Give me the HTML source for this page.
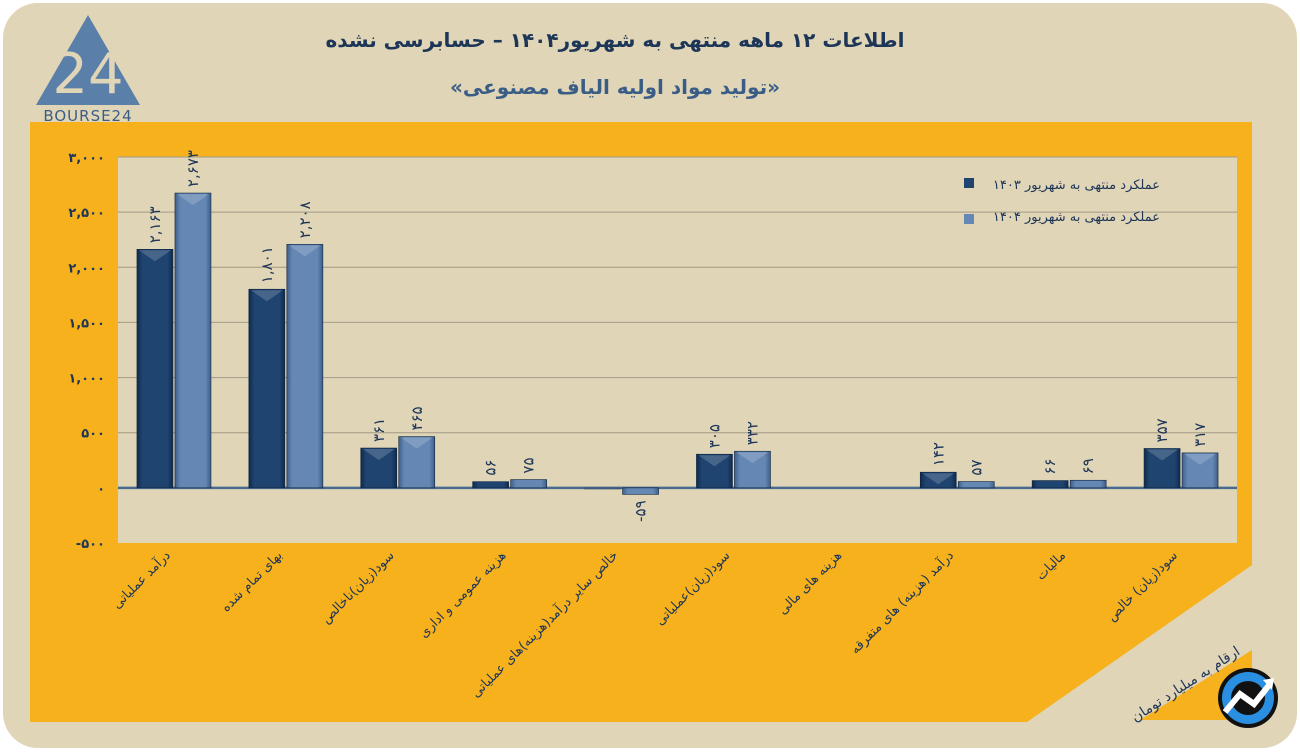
<!DOCTYPE html>
<html><head><meta charset="utf-8"><style>
html,body{margin:0;padding:0;background:#fff;}
svg text{font-family:"DejaVu Sans","Liberation Sans",sans-serif;}
</style></head><body>
<svg id="chart" width="1300" height="751" viewBox="0 0 1300 751" xmlns="http://www.w3.org/2000/svg">
<defs>
<linearGradient id="gDark" x1="0" x2="1" y1="0" y2="0"><stop offset="0" stop-color="#0f2a4c"/><stop offset="0.15" stop-color="#1f4470"/><stop offset="0.85" stop-color="#1f4470"/><stop offset="1" stop-color="#0f2a4c"/></linearGradient>
<linearGradient id="gLight" x1="0" x2="1" y1="0" y2="0"><stop offset="0" stop-color="#3e5f88"/><stop offset="0.15" stop-color="#6487b3"/><stop offset="0.85" stop-color="#6487b3"/><stop offset="1" stop-color="#3e5f88"/></linearGradient>
</defs>
<rect x="3" y="3" width="1294" height="745" rx="35" fill="#e0d5b7"/>
<path d="M30 122 H1252 V565 L1027 722 H30 Z" fill="#f6b11c"/>
<path d="M1140 720 L1252 650 V720 Z" fill="#f6b11c"/>
<rect x="118" y="157" width="1119" height="386" fill="#e0d5b7"/>
<g>
<path d="M88 15 L140 105 H36 Z" fill="#5a7fa8"/>
<text x="88" y="93" font-size="56" fill="#e0d5b7" text-anchor="middle" font-family="Liberation Sans">24</text>
<text x="88" y="121" font-size="15" fill="#3a5d86" text-anchor="middle" letter-spacing="1" font-family="Liberation Sans">BOURSE24</text>
</g>
<text x="615" y="47" font-size="20" font-weight="bold" fill="#1d3557" text-anchor="middle" direction="rtl">اطلاعات ۱۲ ماهه منتهی به شهریور۱۴۰۴ – حسابرسی نشده</text>
<text x="615" y="94" font-size="20" font-weight="bold" fill="#3a5d86" text-anchor="middle" direction="rtl">«تولید مواد اولیه الیاف مصنوعی»</text>
<g id="grid"></g><g id="bars"></g><g id="labels"></g>
<g>
<rect x="964" y="178" width="10" height="10" fill="#1f4470"/>
<text x="1160" y="189" font-size="13" fill="#1d3557" text-anchor="start" direction="rtl">عملکرد منتهی به شهریور ۱۴۰۳</text>
<rect x="964" y="214" width="10" height="10" fill="#6487b3"/>
<text x="1160" y="221" font-size="13" fill="#1d3557" text-anchor="start" direction="rtl">عملکرد منتهی به شهریور ۱۴۰۴</text>
</g>
<text transform="translate(1188,688) rotate(-33)" font-size="14" fill="#1d3557" text-anchor="middle" direction="rtl">ارقام به میلیارد تومان</text>
<g>
<circle cx="1248" cy="698" r="30" fill="#111"/><circle cx="1248" cy="698" r="26" fill="#2a8fe0"/><circle cx="1248" cy="698" r="17" fill="#111"/>
<path d="M1225 712 L1240 694 L1254 704 L1270 684" stroke="#fff" stroke-width="6" fill="none"/>
<path d="M1263 680 L1274 678 L1272 690 Z" fill="#fff"/>
</g>
</svg>
<script>
const categories=["درآمد عملیاتی","بهای تمام شده","سود(زیان)ناخالص","هزینه عمومی و اداری","خالص سایر درآمد(هزینه)های عملیاتی","سود(زیان)عملیاتی","هزینه های مالی","درآمد (هزینه) های متفرقه","مالیات","سود(زیان) خالص"];
const values1403=[2163,1801,361,56,0,305,0,142,66,357];
const values1404=[2673,2208,465,75,-59,332,0,57,69,317];
const ticks=[-500,0,500,1000,1500,2000,2500,3000];
const NS="http://www.w3.org/2000/svg";
const X0=118,X1=1237,Y0=543,Y1=157,VMIN=-500,VMAX=3000;
function y(v){return Y0-(v-VMIN)/(VMAX-VMIN)*(Y0-Y1);}
function cx(i){return X0+(i+0.5)*(X1-X0)/categories.length;}
function fa(n){const d="۰۱۲۳۴۵۶۷۸۹";let s=Math.abs(n).toString().replace(/\B(?=(\d{3})+(?!\d))/g,",");s=s.replace(/\d/g,c=>d[c]);return (n<0?"-":"")+s;}
function mk(t,a,p){const e=document.createElementNS(NS,t);for(const k in a)e.setAttribute(k,a[k]);p.appendChild(e);return e;}
const grid=document.getElementById('grid'),bars=document.getElementById('bars'),labels=document.getElementById('labels');
const LTR='direction:ltr;unicode-bidi:bidi-override';
ticks.forEach(t=>{
 if(t!==0&&t!==VMIN){const l=mk('line',{x1:X0,x2:X1,y1:y(t),y2:y(t),stroke:'#a39a86','stroke-width':1},grid);
 
 }
 const tx=mk('text',{x:105,y:y(t)+5,'font-size':13,'font-weight':'bold',fill:'#1d3557','text-anchor':'end',style:LTR},grid);
 tx.textContent=fa(t);
 
 
});
const bw=36;
function bar(v,x,fill,name,i){
 const top=Math.min(y(v),y(0)),h=Math.max(Math.abs(y(v)-y(0)),1.5);
 const zeroRow=values1403[i]===0&&values1404[i]===0;
 const r=mk('rect',{x:x,y:top,width:bw,height:h,fill:fill,stroke:'#0d2340','stroke-width':0.6,opacity:zeroRow?0:(v===0?0.3:1)},bars);
 
 
 if(h>12){mk('path',{d:`M${x+2} ${top+1} L${x+bw-2} ${top+1} L${x+bw/2} ${top+12} Z`,fill:'rgba(255,255,255,0.18)'},bars);}
 if(v!==0){
  const ly=v>=0?top-6:top+h+6;
  const t=mk('text',{transform:`translate(${x+bw/2+5},${ly}) rotate(-90)`,'font-size':15,fill:'#1d3557','text-anchor':v>=0?'start':'end',style:LTR},labels);
  t.textContent=fa(v);
  
  
 }
}
categories.forEach((c,i)=>{
 const m=cx(i);
 bar(values1403[i],m-bw-1,'url(#gDark)','bar-1403',i);
 bar(values1404[i],m+1,'url(#gLight)','bar-1404',i);
 const t=mk('text',{transform:`translate(${m-3},${556}) rotate(-45)`,'font-size':13,fill:'#1d3557','text-anchor':'start',direction:'rtl'},labels);
 t.textContent=c;
 
 
});
const z=mk('line',{x1:X0,x2:X1,y1:y(0),y2:y(0),stroke:'#4a6b8f','stroke-width':2.5},grid);


</script>
</body></html>
